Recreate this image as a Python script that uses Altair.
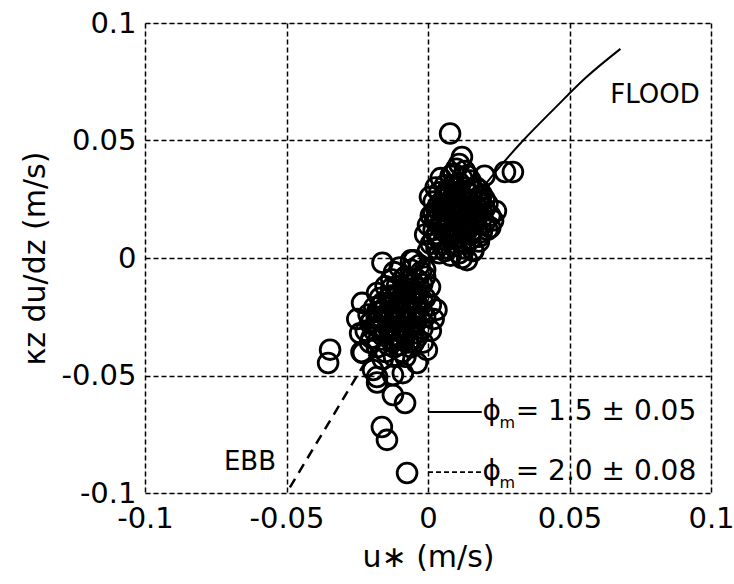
import altair as alt
import pandas as pd

# ---- data ----
pts_x = [
    0.0078, 0.012, 0.011, 0.0045, 0.0027, 0.0007, 0.020, 0.024, 0.0272, 0.030,
    0.010, 0.013, 0.008, 0.012, 0.015, 0.006, 0.009, 0.013, 0.017, 0.004,
    0.008, 0.011, 0.015, 0.019, 0.002, 0.006, 0.010, 0.014, 0.018, 0.021,
    0.003, 0.007, 0.011, 0.015, 0.019, 0.022, 0.001, 0.005, 0.009, 0.013,
    0.017, 0.020, 0.000, 0.004, 0.008, 0.012, 0.016, 0.019, -0.001, 0.003,
    0.007, 0.011, 0.015, 0.018, 0.001, 0.005, 0.009, 0.013, 0.016, 0.000,
    0.004, 0.008, 0.012, 0.0138, 0.016, 0.021, 0.023, 0.010, 0.006, 0.017,
    0.020, 0.0025, 0.014, 0.018, 0.009,
    0.009, 0.014, 0.011, 0.007, 0.016, 0.012, 0.004, 0.008, 0.013, 0.016,
    0.002, 0.010, 0.014, 0.006, 0.010, 0.002, 0.013, 0.007, 0.003, 0.011,
    0.017, 0.020, 0.005, 0.009, 0.015, 0.022, 0.018,
    0.006, 0.010, 0.014, 0.018, 0.005, 0.009, 0.012, 0.016, 0.003, 0.007,
    0.011, 0.015, 0.019, 0.002, 0.008, 0.012, 0.004, 0.006, 0.010, 0.014,
    -0.0161, -0.010, -0.006, -0.003, -0.008, -0.004, -0.001, -0.013, -0.0233, -0.018,
    -0.0205, -0.015, -0.011, -0.007, -0.003, 0.0007, -0.017, -0.013, -0.009, -0.005,
    -0.001, -0.019, -0.015, -0.011, -0.007, -0.003, 0.001, 0.003, -0.021, -0.017,
    -0.013, -0.009, -0.005, -0.001, 0.002, -0.022, -0.018, -0.014, -0.010, -0.006,
    -0.002, 0.001, -0.020, -0.016, -0.012, -0.008, -0.004, -0.0018, -0.023, -0.018,
    -0.014, -0.010, -0.006, -0.0004, -0.018, -0.0194, -0.0124, -0.0039, -0.008, -0.012,
    -0.016, -0.018, -0.0124, -0.0081, -0.0163, -0.0145, -0.0074, -0.0346, -0.0353, -0.0235,
    -0.0089, -0.025, -0.024, -0.0205, -0.0025, -0.006,
    -0.012, -0.007, -0.002, -0.010, -0.006, -0.016, -0.012, -0.008, -0.004, -0.018,
    -0.014, -0.010, -0.006, -0.002, -0.016, -0.012, -0.008, -0.004, -0.019, -0.015,
    -0.011, -0.007, -0.013, -0.009, -0.005, -0.015, -0.009, -0.020, -0.001, -0.005,
    -0.009, -0.005, -0.013, -0.008, -0.004, -0.014, -0.010, -0.006, -0.002, -0.016,
    -0.012, -0.008, -0.004, -0.018, -0.014, -0.010, -0.006, -0.017, -0.013, -0.009,
    -0.005, -0.011, -0.007, -0.012,
]
pts_y = [
    0.053, 0.043, 0.040, 0.034, 0.030, 0.026, 0.035, 0.020, 0.0366, 0.0366,
    0.038, 0.037, 0.035, 0.034, 0.033, 0.031, 0.031, 0.030, 0.030, 0.028,
    0.028, 0.027, 0.027, 0.027, 0.024, 0.025, 0.024, 0.024, 0.024, 0.023,
    0.021, 0.021, 0.021, 0.020, 0.020, 0.018, 0.018, 0.017, 0.018, 0.017,
    0.016, 0.015, 0.014, 0.014, 0.014, 0.013, 0.012, 0.011, 0.010, 0.010,
    0.010, 0.009, 0.008, 0.007, 0.006, 0.006, 0.005, 0.004, 0.003, 0.003,
    0.002, 0.001, 0.000, -0.0009, 0.0034, 0.012, 0.016, 0.028, 0.020, 0.022,
    0.025, 0.016, 0.019, 0.029, 0.012,
    0.036, 0.035, 0.032, 0.029, 0.029, 0.026, 0.023, 0.022, 0.022, 0.021,
    0.019, 0.019, 0.015, 0.012, 0.011, 0.008, 0.006, 0.004, 0.004, 0.002,
    0.018, 0.021, 0.015, 0.008, 0.010, 0.013, 0.009,
    0.027, 0.030, 0.028, 0.026, 0.022, 0.020, 0.019, 0.018, 0.016, 0.016,
    0.015, 0.014, 0.017, 0.012, 0.009, 0.007, 0.008, 0.003, 0.006, 0.012,
    -0.002, -0.004, -0.005, -0.003, -0.008, -0.009, -0.008, -0.009, -0.0191, -0.0149,
    -0.0277, -0.012, -0.012, -0.013, -0.013, -0.0123, -0.017, -0.016, -0.017, -0.017,
    -0.017, -0.021, -0.021, -0.021, -0.021, -0.021, -0.020, -0.022, -0.024, -0.025,
    -0.025, -0.025, -0.025, -0.025, -0.026, -0.031, -0.029, -0.029, -0.029, -0.029,
    -0.030, -0.031, -0.034, -0.033, -0.033, -0.033, -0.034, -0.036, -0.0404, -0.038,
    -0.037, -0.037, -0.038, -0.0391, -0.0506, -0.0477, -0.0498, -0.0447, -0.042, -0.042,
    -0.043, -0.053, -0.0583, -0.0617, -0.0719, -0.0774, -0.0915, -0.039, -0.0447, -0.040,
    -0.049, -0.026, -0.032, -0.036, -0.006, -0.001,
    -0.006, -0.010, -0.011, -0.015, -0.015, -0.019, -0.019, -0.019, -0.019, -0.023,
    -0.023, -0.023, -0.023, -0.023, -0.027, -0.027, -0.027, -0.027, -0.031, -0.031,
    -0.031, -0.031, -0.035, -0.035, -0.036, -0.040, -0.040, -0.027, -0.005, -0.001,
    -0.009, -0.011, -0.013, -0.014, -0.015, -0.017, -0.018, -0.018, -0.018, -0.022,
    -0.022, -0.022, -0.022, -0.026, -0.026, -0.026, -0.026, -0.030, -0.030, -0.030,
    -0.032, -0.034, -0.036, -0.038,
]

flood_x = [0.0, 0.0336, 0.0450, 0.0560, 0.0680]
flood_y = [0.0, 0.0500, 0.0640, 0.0770, 0.0890]
ebb_x = [0.0, -0.0488]
ebb_y = [0.0, -0.0976]

legend_labels = ["= 1.5 \u00b1 0.05", "= 2.0 \u00b1 0.08"]
tick_vals = [-0.1, -0.05, 0, 0.05, 0.1]

FONT = "DejaVu Sans"

scatter_df = pd.DataFrame({"x": pts_x, "y": pts_y})
flood_df = pd.DataFrame({"x": flood_x, "y": flood_y})
ebb_df = pd.DataFrame({"x": ebb_x, "y": ebb_y})

xs = alt.Scale(domain=[-0.1, 0.1], nice=False, zero=False)
ys = alt.Scale(domain=[-0.1, 0.1], nice=False, zero=False)

label_expr = "datum.value == 0 ? '0' : (datum.value < 0 ? '-' : '') + format(abs(datum.value), '.2~f')"

X = alt.X("x:Q", scale=xs, title="u\u2217  (m/s)",
          axis=alt.Axis(values=tick_vals, labelExpr=label_expr, ticks=False, domain=False,
                        grid=True, gridColor="black", gridDash=[5, 3], gridWidth=1.5,
                        labelFont=FONT, labelFontSize=29, labelColor="black", labelPadding=11,
                        labelFlush=False,
                        titleFont=FONT, titleFontSize=30, titleFontWeight="normal",
                        titleColor="black", titlePadding=9))
Y = alt.Y("y:Q", scale=ys, title="\u03baz du/dz  (m/s)",
          axis=alt.Axis(values=tick_vals, labelExpr=label_expr, ticks=False, domain=False,
                        grid=True, gridColor="black", gridDash=[5, 3], gridWidth=1.5,
                        labelFont=FONT, labelFontSize=29, labelColor="black", labelPadding=9,
                        labelFlush=False,
                        titleFont=FONT, titleFontSize=30, titleFontWeight="normal",
                        titleColor="black", titlePadding=10))

base_grid = alt.Chart(scatter_df).mark_point(opacity=0).encode(x=X, y=Y)

flood_line = alt.Chart(flood_df).mark_line(color="black", strokeWidth=2, interpolate="monotone").encode(
    x=alt.X("x:Q", scale=xs), y=alt.Y("y:Q", scale=ys), order="x:Q")
ebb_line = alt.Chart(ebb_df).mark_line(color="black", strokeWidth=2.5, strokeDash=[10, 7]).encode(
    x=alt.X("x:Q", scale=xs), y=alt.Y("y:Q", scale=ys))

circles = alt.Chart(scatter_df).mark_point(
    shape="circle", size=390, filled=False, color="black", strokeWidth=2.8, opacity=1
).encode(x=alt.X("x:Q", scale=xs), y=alt.Y("y:Q", scale=ys))

# annotations
ann_df = pd.DataFrame({"x": [0.0802, -0.0629], "y": [0.0694, -0.0868], "t": ["FLOOD", "EBB"]})
ann = alt.Chart(ann_df).mark_text(font=FONT, fontSize=26, color="black").encode(
    x=alt.X("x:Q", scale=xs), y=alt.Y("y:Q", scale=ys), text="t:N")

leg_rows_y = [-0.0655, -0.0911]
leg_solid = alt.Chart(pd.DataFrame({"x": [0.0, 0.0190], "y": [leg_rows_y[0]] * 2})).mark_line(
    color="black", strokeWidth=2).encode(x=alt.X("x:Q", scale=xs), y=alt.Y("y:Q", scale=ys))
leg_dash = alt.Chart(pd.DataFrame({"x": [0.0, 0.0190], "y": [leg_rows_y[1]] * 2})).mark_line(
    color="black", strokeWidth=1.6, strokeDash=[5, 3]).encode(x=alt.X("x:Q", scale=xs), y=alt.Y("y:Q", scale=ys))

phi_df = pd.DataFrame({"x": [0.0193, 0.0193], "y": leg_rows_y, "t": ["\u03d5", "\u03d5"]})
phi = alt.Chart(phi_df).mark_text(font=FONT, fontSize=28, color="black", align="left").encode(
    x=alt.X("x:Q", scale=xs), y=alt.Y("y:Q", scale=ys), text="t:N")
sub_df = pd.DataFrame({"x": [0.0253, 0.0253], "y": [v - 0.0045 for v in leg_rows_y], "t": ["m", "m"]})
sub = alt.Chart(sub_df).mark_text(font=FONT, fontSize=16, color="black", align="left").encode(
    x=alt.X("x:Q", scale=xs), y=alt.Y("y:Q", scale=ys), text="t:N")
eq_df = pd.DataFrame({"x": [0.0310, 0.0310], "y": leg_rows_y, "t": legend_labels})
eq = alt.Chart(eq_df).mark_text(font=FONT, fontSize=28, color="black", align="left").encode(
    x=alt.X("x:Q", scale=xs), y=alt.Y("y:Q", scale=ys), text="t:N")

chart = alt.layer(
    base_grid, flood_line, ebb_line, circles, ann, leg_solid, leg_dash, phi, sub, eq
).properties(
    width=566, height=470,
    autosize="none",
    padding={"left": 145, "top": 23, "right": 23, "bottom": 91},
).configure_view(
    stroke="black", strokeWidth=3
).configure(background="white")

chart.save("out.html", embed_options={"renderer": "svg", "actions": False})
